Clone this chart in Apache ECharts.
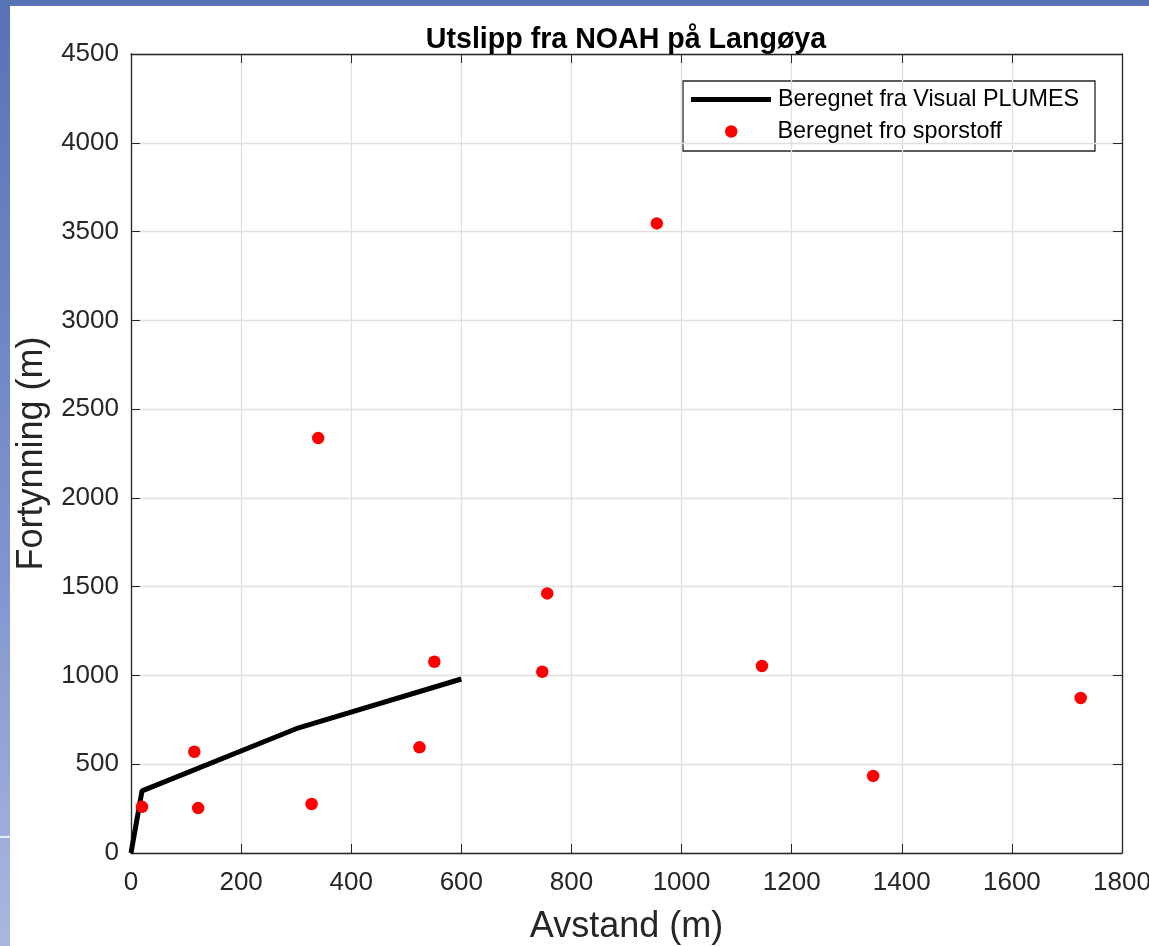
<!DOCTYPE html>
<html>
<head>
<meta charset="utf-8">
<title>Utslipp fra NOAH på Langøya</title>
<script src="https://cdn.jsdelivr.net/npm/echarts@6/dist/echarts.min.js"></script>
<style>
    html, body { margin: 0; padding: 0; width: 1149px; height: 946px; overflow: hidden; }
    body { background: linear-gradient(180deg, #5872b6 0%, #7f95cf 60%, #aab8e0 100%); position: relative; }
    #panel { position: absolute; left: 10px; top: 6px; width: 1139px; height: 940px; background: #fff; }
    #streak { position: absolute; left: 0; top: 836px; width: 10px; height: 2px; background: #e8ecf8; }
    #chart { position: absolute; left: 0; top: 0; width: 1149px; height: 946px; }
</style>
</head>
<body>
<div id="panel"></div>
<div id="streak"></div>
<div id="chart"></div>
<script>
    // Beregnet fra Visual PLUMES (linje)
    var plumesX = [0, 20, 300, 600];
    var plumesY = [0, 350, 700, 980];
    // Beregnet fro sporstoff (punkter)
    var sporX = [20, 115, 122, 328, 340, 524, 551, 747, 756, 955, 1146, 1348, 1725];
    var sporY = [260, 570, 253, 276, 2337, 595, 1077, 1021, 1462, 3546, 1053, 434, 873];

    var xTicks = [0, 200, 400, 600, 800, 1000, 1200, 1400, 1600, 1800];
    var yTicks = [0, 500, 1000, 1500, 2000, 2500, 3000, 3500, 4000, 4500];

    var seriesNames = ['Beregnet fra Visual PLUMES', 'Beregnet fro sporstoff'];

    function pairs(xs, ys) {
        var out = [];
        for (var i = 0; i < xs.length; i++) {
            out.push([xs[i], ys[i]]);
        }
        return out;
    }

    var axisColor = '#262626';
    var font = 'Liberation Sans, Arial, sans-serif';

    function baseAxis(ticks, extra) {
        var ax = {
            type: 'value',
            min: ticks[0],
            max: ticks[ticks.length - 1],
            interval: ticks[1] - ticks[0],
            axisLine: { show: true, onZero: false, lineStyle: { color: axisColor, width: 1.3 } },
            axisTick: { show: true, inside: true, length: 9, lineStyle: { color: axisColor, width: 1 } },
            splitLine: { show: false },
            axisLabel: { show: false }
        };
        for (var k in extra) { ax[k] = extra[k]; }
        return ax;
    }

    // ingen tusenskilletegn, som i MATLAB
    function plainNumber(v) { return String(v); }

    var option = {
        animation: false,
        backgroundColor: 'transparent',
        title: {
            text: 'Utslipp fra NOAH på Langøya',
            left: 626,
            textAlign: 'center',
            top: 26,
            padding: 0,
            textStyle: { fontFamily: font, fontSize: 28.6, fontWeight: 'bold', color: '#000' }
        },
        grid: { left: 131, top: 54, right: 27, bottom: 93, containLabel: false, outerBoundsMode: 'none' },
        xAxis: [
            baseAxis(xTicks, {
                position: 'bottom',
                name: 'Avstand (m)',
                nameLocation: 'middle',
                nameGap: 56,
                nameTextStyle: { fontFamily: font, fontSize: 36, color: axisColor },
                splitLine: { show: true, lineStyle: { color: '#e0e0e0', width: 1.3 } },
                axisLabel: { show: true, margin: 17, fontFamily: font, fontSize: 26, color: axisColor, formatter: plainNumber }
            }),
            baseAxis(xTicks, { position: 'top' })
        ],
        yAxis: [
            baseAxis(yTicks, {
                position: 'left',
                name: 'Fortynning (m)',
                nameLocation: 'middle',
                nameGap: 65,
                nameTextStyle: { fontFamily: font, fontSize: 36, color: axisColor },
                splitLine: { show: true, lineStyle: { color: '#e0e0e0', width: 1.3 } },
                axisLabel: { show: true, margin: 12, fontFamily: font, fontSize: 26, color: axisColor, formatter: plainNumber }
            }),
            baseAxis(yTicks, { position: 'right' })
        ],
        legend: [
            {
                data: [{ name: seriesNames[0], icon: 'rect' }],
                left: 691,
                top: 88,
                padding: 0,
                itemWidth: 80,
                itemHeight: 5,
                selectedMode: false,
                textStyle: { fontFamily: font, fontSize: 23.4, color: '#000', padding: [0, 0, 0, 2] }
            },
            {
                data: [{ name: seriesNames[1], icon: 'circle' }],
                left: 725,
                top: 120,
                padding: 0,
                itemWidth: 12.5,
                itemHeight: 12.5,
                selectedMode: false,
                textStyle: { fontFamily: font, fontSize: 23.4, color: '#000', padding: [0, 0, 0, 35] }
            }
        ],
        graphic: [
            {
                type: 'rect',
                shape: { x: 683, y: 81, width: 412, height: 70 },
                style: { fill: '#fff', stroke: axisColor, lineWidth: 1.3 },
                z: 0,
                zlevel: 0
            }
        ],
        series: [
            {
                name: seriesNames[0],
                type: 'line',
                data: pairs(plumesX, plumesY),
                showSymbol: false,
                symbol: 'none',
                lineStyle: { color: '#000', width: 5 },
                itemStyle: { color: '#000' },
                z: 3
            },
            {
                name: seriesNames[1],
                type: 'scatter',
                data: pairs(sporX, sporY),
                symbol: 'circle',
                symbolSize: 12.5,
                itemStyle: { color: '#ff0000', opacity: 1 },
                z: 4
            }
        ]
    };

    var myChart = echarts.init(document.getElementById('chart'), null, { renderer: 'canvas' });
    myChart.setOption(option);
</script>
</body>
</html>
